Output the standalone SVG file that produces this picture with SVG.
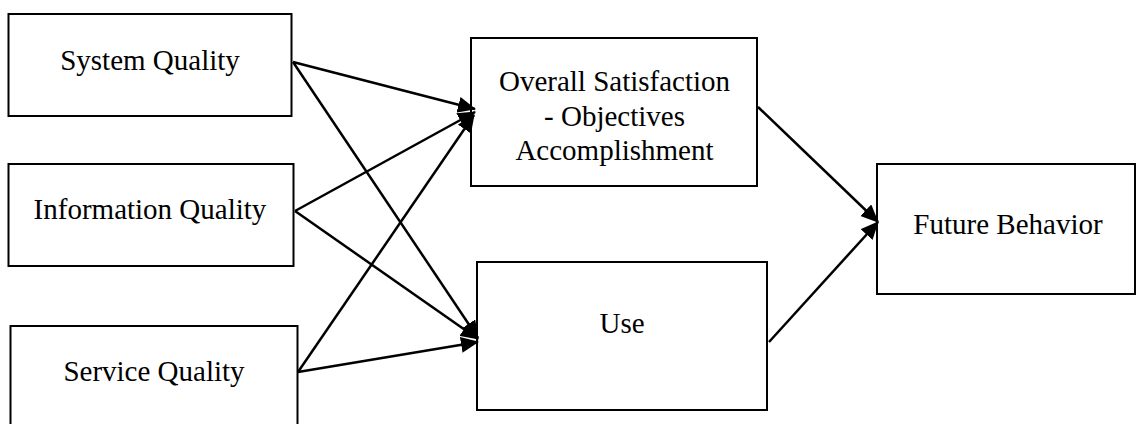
<svg xmlns="http://www.w3.org/2000/svg" width="1136" height="424" viewBox="0 0 1136 424">
<style>
.box{fill:#fff;stroke:#000;stroke-width:2}
.lbl{font-family:"Liberation Serif","Times New Roman",serif;font-size:29px;fill:#000;text-anchor:middle}
.con{stroke:#000;stroke-width:2.5;fill:none;marker-end:url(#ah)}
</style>
<defs>
<marker id="ah" markerUnits="userSpaceOnUse" markerWidth="18" markerHeight="16" viewBox="0 0 18 16" refX="17" refY="8" orient="auto">
<path d="M0,0 L18,8 L0,16 Z" fill="#000"/>
</marker>
</defs>
<rect width="1136" height="424" fill="#fff"/>
<g id="system-quality"><rect class="box" x="8.5" y="14" width="283" height="102"/><text class="lbl" x="150" y="70">System Quality</text></g>
<g id="information-quality"><rect class="box" x="8.5" y="164" width="285" height="102"/><text class="lbl" x="150" y="219">Information Quality</text></g>
<g id="service-quality"><rect class="box" x="10.5" y="326" width="287" height="104"/><text class="lbl" x="154" y="381">Service Quality</text></g>
<g id="overall-satisfaction"><rect class="box" x="471" y="38" width="286" height="148"/><text class="lbl" x="614.5" y="91">Overall Satisfaction</text><text class="lbl" x="614.5" y="126">- Objectives</text><text class="lbl" x="614.5" y="160">Accomplishment</text></g>
<g id="use"><rect class="box" x="477" y="262" width="290" height="148"/><text class="lbl" x="622" y="333">Use</text></g>
<g id="future-behavior"><rect class="box" x="877" y="164" width="258" height="130"/><text class="lbl" x="1008" y="234">Future Behavior</text></g>
<g id="connectors">
<line class="con" x1="293" y1="62" x2="475" y2="109"/>
<line class="con" x1="293" y1="62" x2="478" y2="338"/>
<line class="con" x1="295" y1="211" x2="475" y2="112"/>
<line class="con" x1="295" y1="211" x2="478" y2="339"/>
<line class="con" x1="298" y1="372" x2="474" y2="115"/>
<line class="con" x1="298" y1="372" x2="478" y2="342"/>
<line class="con" x1="758" y1="107" x2="878" y2="222"/>
<line class="con" x1="769" y1="342" x2="878" y2="222"/>
</g>
</svg>
